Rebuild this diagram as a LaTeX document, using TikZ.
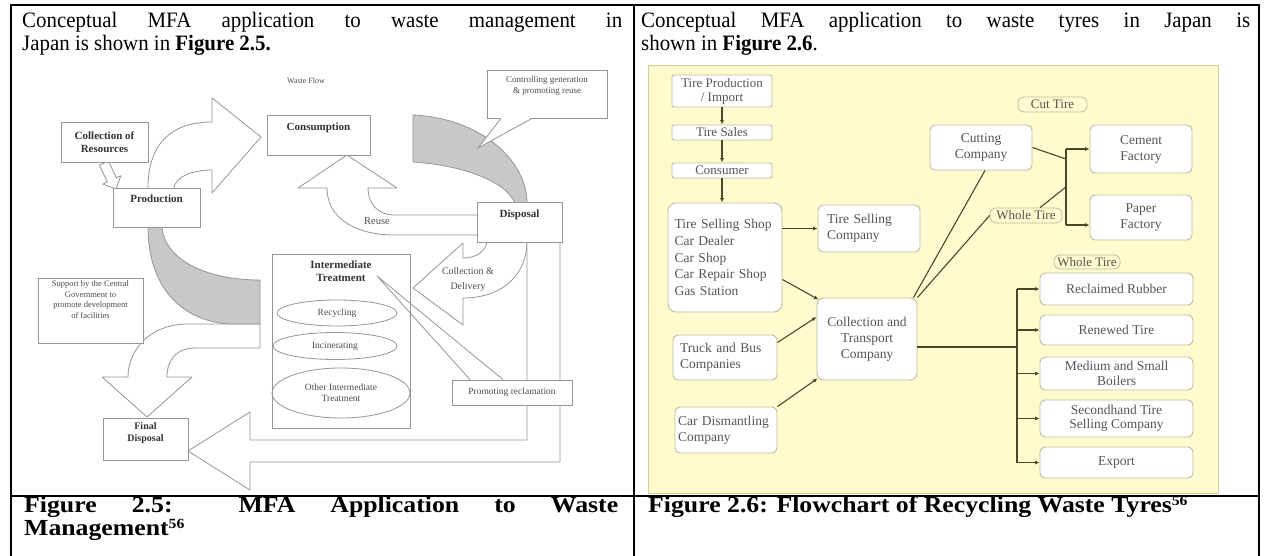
\documentclass[tikz,border=0pt]{standalone}
\usepackage{fontspec}
\setmainfont{Liberation Serif}
\newfontfamily\bodyfont[FakeStretch=0.95]{Liberation Serif}
\newfontfamily\capfont[FakeStretch=1.12]{Liberation Serif}
\usetikzlibrary{arrows.meta,shapes.geometric}

\definecolor{bgyellow}{RGB}{255,251,206}
\definecolor{bgedge}{RGB}{214,206,150}
\definecolor{boxedge}{RGB}{190,186,160}
\definecolor{flowline}{RGB}{75,72,40}
\definecolor{figtext}{RGB}{85,85,85}
\definecolor{sketchline}{RGB}{150,150,150}
\definecolor{bandgray}{RGB}{200,200,200}

\newcommand{\refmark}{\raisebox{6.5pt}{\fontsize{14}{14}\selectfont 56}}

\tikzset{
  framerule/.style={line width=2pt, draw=black},
  bodytext/.style={anchor=base west, inner sep=0pt, font=\bodyfont\fontsize{22}{23}\selectfont},
  captext/.style={anchor=base west, inner sep=0pt, font=\capfont\bfseries\fontsize{23}{23}\selectfont},
  sketchbox/.style={draw=sketchline, fill=white, line width=0.8pt, inner sep=0pt},
  sketchtext/.style={text=black!80, font=\fontsize{11}{13}\selectfont\bfseries, align=center, inner sep=0pt},
  smalltext/.style={text=black!70, font=\fontsize{9}{11}\selectfont, align=center, inner sep=0pt},
  ovalbox/.style={ellipse, draw=sketchline, line width=0.8pt, inner sep=0pt, text=black!70,
    font=\fontsize{9.5}{11}\selectfont, align=center},
  blockarrow/.style={draw=sketchline, fill=white, line width=0.8pt, line join=round},
  greyband/.style={draw=sketchline, fill=bandgray, line width=0.8pt},
  tyrebox/.style={draw=boxedge, fill=white, rounded corners=5pt, line width=0.9pt, inner sep=0pt,
    text=figtext, font=\fontsize{13.5}{16}\selectfont, align=center},
  pilltag/.style={draw=boxedge, fill=bgyellow, rounded corners=6pt, line width=0.8pt, inner sep=0pt,
    text=figtext, font=\fontsize{13}{15}\selectfont},
  conn/.style={draw=flowline, line width=1.1pt},
  connto/.style={conn, -{Latex[length=4.5pt,width=4pt]}},
}

\begin{document}
\begin{tikzpicture}[x=1pt,y=-1pt]
\useasboundingbox (0,0) rectangle (1272,556);
\fill[white] (0,0) rectangle (1272,556);

% ---------- table rules ----------
\draw[framerule] (11,5) -- (1259,5);
\draw[framerule] (11,495.5) -- (1259,495.5);
\draw[framerule] (11,4) -- (11,556);
\draw[framerule] (634,4) -- (634,556);
\draw[framerule] (1259,4) -- (1259,556);

% ---------- body text ----------
\node[bodytext] (introLa) at (22,28)
  {\makebox[600pt][s]{Conceptual MFA application to waste management in}};
\node[bodytext] (introLb) at (22,51) {Japan is shown in \textbf{Figure 2.5.}};
\node[bodytext] (introRa) at (641,28)
  {\makebox[609pt][s]{Conceptual MFA application to waste tyres in Japan is}};
\node[bodytext] (introRb) at (641,51) {shown in \textbf{Figure 2.6}.};

% ---------- captions ----------
\node[captext] (capLa) at (24,512) {\makebox[594pt][s]{Figure 2.5: MFA Application to Waste}};
\node[captext] (capLb) at (24,535) {Management\refmark};
\node[captext] (capR) at (648,512) {Figure 2.6: Flowchart of Recycling Waste Tyres\refmark};

% ================= waste management flow =================
% production -> consumption
\draw[blockarrow] (148,188) .. controls (148,145) and (170,122) .. (212,122) -- (212,98) -- (261,137)
  -- (212,193) -- (212,170) .. controls (190,170) and (175,178) .. (174,188);
% reuse
\draw[blockarrow] (477,215) -- (395,215) .. controls (377,215) and (368,203) .. (368,188) -- (397,188)
  -- (347,155) -- (298,188) -- (327,188) .. controls (327,218) and (355,235) .. (395,235) -- (477,235);
% collection & delivery
\draw[blockarrow] (487,242) .. controls (485,252) and (476,258) .. (463,258) -- (463,243) -- (413,288)
  -- (463,325) -- (463,298) .. controls (505,298) and (527,272) .. (527,242);
% loop down to final disposal
\draw[blockarrow] (527,242) -- (527,440) -- (250,440) -- (250,412) -- (188,451) -- (250,490)
  -- (250,462) -- (560,462) -- (560,242);
% supported flow into final disposal
\draw[blockarrow] (260,324) -- (188,324) .. controls (150,324) and (128,350) .. (128,377) -- (102,377)
  -- (147,417) -- (192,377) -- (167,377) .. controls (167,360) and (176,348) .. (196,348) -- (260,348) -- cycle;
% grey bands
\draw[greyband] (413,115) .. controls (480,118) and (527,160) .. (527,203) -- (515,203)
  .. controls (505,180) and (460,165) .. (413,162) -- cycle;
\draw[greyband] (148,227) .. controls (148,290) and (185,324) .. (235,324) -- (260,324) -- (260,280)
  .. controls (210,280) and (165,262) .. (162,227) -- cycle;
% resources into production
\draw[blockarrow] (99.5,165.1) -- (108.5,160.9) -- (116.3,177.8) -- (120.9,175.7) -- (116,189)
  -- (102.7,184.1) -- (107.3,182) -- cycle;

\node[smalltext, font=\fontsize{8}{9}\selectfont] (wflow) at (306,81) {Waste Flow};

\node[sketchbox, minimum width=87pt, minimum height=40pt] (cres) at (104.5,142) {};
\node[sketchtext] (crest) at (cres) {Collection of\\Resources};
\node[sketchbox, minimum width=87pt, minimum height=39pt] (prod) at (156.5,207.5) {};
\node[sketchtext, anchor=north] (prodt) at ([yshift=-7pt]prod.north) {Production};
\node[sketchbox, minimum width=103pt, minimum height=40pt] (cons) at (318.5,135) {};
\node[sketchtext, anchor=north] (const) at ([yshift=-8pt]cons.north) {Consumption};
\node[sketchbox, minimum width=85pt, minimum height=40pt] (disp) at (519.5,222) {};
\node[sketchtext, anchor=north] (dispt) at ([yshift=-8pt]disp.north) {Disposal};
\node[sketchbox, minimum width=85pt, minimum height=42pt] (fdis) at (145.5,439) {};
\node[sketchtext, font=\fontsize{10}{12}\selectfont\bfseries, anchor=north] (fdist) at ([yshift=-5pt]fdis.north) {Final\\Disposal};

\node[sketchbox, minimum width=138pt, minimum height=174pt] (itre) at (341,341) {};
\node[sketchtext, anchor=north] (itret) at ([yshift=-7pt]itre.north) {Intermediate\\Treatment};
\node[ovalbox, minimum width=120pt, minimum height=26pt] (recy) at (337,313) {Recycling};
\node[ovalbox, minimum width=124pt, minimum height=27pt] (inci) at (335,346) {Incinerating};
\node[ovalbox, minimum width=138pt, minimum height=50pt] (othr) at (341,393) {Other Intermediate\\Treatment};

\node[sketchbox, minimum width=105pt, minimum height=65pt] (supp) at (90.5,310.5) {};
\node[smalltext, font=\fontsize{8.5}{10.5}\selectfont, anchor=north] (suppt) at ([yshift=-3pt]supp.north)
  {Support by the Central\\Government to\\promote development\\of facilities};

% callout: controlling generation
\node[sketchbox, minimum width=120pt, minimum height=48pt] (ctrl) at (547,94) {};
\node[smalltext, anchor=north] (ctrlt) at ([yshift=-6pt]ctrl.north) {Controlling generation\\\& promoting reuse};
\coordinate (ctrltip) at (478,148);
\fill[white] ([xshift=-46pt,yshift=1pt]ctrl.south) -- (ctrltip) -- ([xshift=-15pt,yshift=1pt]ctrl.south) -- cycle;
\draw[draw=sketchline, line width=0.8pt] ([xshift=-46pt]ctrl.south) -- (ctrltip) -- ([xshift=-15pt]ctrl.south);

% callout: promoting reclamation
\node[sketchbox, minimum width=120pt, minimum height=25pt] (prec) at (512,392.5) {};
\node[smalltext, font=\fontsize{9.5}{11}\selectfont] (prect) at (prec) {Promoting reclamation};
\coordinate (prectip) at (377,276);
\fill[white] ([xshift=-41pt,yshift=0.8pt]prec.north) rectangle ([xshift=-10pt,yshift=-0.8pt]prec.north);
\draw[draw=sketchline, line width=0.8pt] ([xshift=-42pt]prec.north) -- (prectip) -- ([xshift=-9pt]prec.north);

\node[smalltext, font=\fontsize{10.5}{12}\selectfont] (reuse) at (377,221) {Reuse};
\node[smalltext, font=\fontsize{10}{15}\selectfont] (cdel) at (468,279.5) {Collection \&\\Delivery};

% ================= waste tyre flowchart =================
\path[fill=bgyellow, draw=bgedge, line width=1pt] (648,66) rectangle (1218,493);

\node[tyrebox, rounded corners=2pt, minimum width=100pt, minimum height=32pt, font=\fontsize{13}{14}\selectfont] (tp) at (722,91) {Tire Production\\/ Import};
\node[tyrebox, rounded corners=2pt, minimum width=100pt, minimum height=15pt, font=\fontsize{13}{14}\selectfont] (ts) at (722,132.5) {Tire Sales};
\node[tyrebox, rounded corners=2pt, minimum width=100pt, minimum height=15pt, font=\fontsize{13}{14}\selectfont] (co) at (722,170.5) {Consumer};
\node[tyrebox, rounded corners=8pt, minimum width=114pt, minimum height=109pt, text width=101pt, align=left,
  font=\fontsize{13.5}{16.6}\selectfont] (shop) at (725,257.5)
  {Tire Selling Shop\\Car Dealer\\Car Shop\\Car Repair Shop\\Gas Station};
\node[tyrebox, minimum width=102pt, minimum height=47pt, text width=84pt, align=left] (tsc) at (869,228.5) {Tire Selling\\Company};
\node[tyrebox, minimum width=104pt, minimum height=45pt, text width=90pt, align=left] (tb) at (725,357.5) {Truck and Bus\\Companies};
\node[tyrebox, minimum width=102pt, minimum height=46pt, text width=96pt, align=left] (cd) at (726,430) {Car Dismantling\\Company};
\node[tyrebox, rounded corners=7pt, minimum width=100pt, minimum height=82pt] (ct) at (867,339) {Collection and\\Transport\\Company};

\node[tyrebox, minimum width=102pt, minimum height=45pt] (cut) at (981,147.5) {Cutting\\Company};
\node[pilltag, minimum width=69pt, minimum height=15pt] (cuttire) at (1052.5,104.5) {Cut Tire};
\node[tyrebox, minimum width=102pt, minimum height=48pt] (cem) at (1141,149) {Cement\\Factory};
\node[tyrebox, minimum width=102pt, minimum height=45pt] (pap) at (1141,217.5) {Paper\\Factory};
\node[pilltag, minimum width=72pt, minimum height=15pt] (wta) at (1026,215.5) {Whole Tire};
\node[pilltag, minimum width=66pt, minimum height=14pt] (wtb) at (1087,262) {Whole Tire};

\node[tyrebox, minimum width=153pt, minimum height=32pt] (r1) at (1116.5,289) {Reclaimed Rubber};
\node[tyrebox, minimum width=153pt, minimum height=30pt] (r2) at (1116.5,330) {Renewed Tire};
\node[tyrebox, minimum width=153pt, minimum height=33pt, font=\fontsize{13.5}{14.5}\selectfont] (r3) at (1116.5,373.5) {Medium and Small\\Boilers};
\node[tyrebox, minimum width=153pt, minimum height=37pt, font=\fontsize{13.5}{14.5}\selectfont] (r4) at (1116.5,418.5) {Secondhand Tire\\Selling Company};
\node[tyrebox, minimum width=153pt, minimum height=31pt] (r5) at (1116.5,462.5) {Export};

% chain down the left side
\draw[connto] (tp) -- (ts);
\draw[connto] (ts) -- (co);
\draw[connto] (co.south) -- (co.south |- shop.north);
\draw[connto] (shop.east |- tsc.west) -- (tsc.west);
\draw[connto] ([yshift=-22pt]shop.east) -- ([xshift=2pt,yshift=-2pt]ct.north west);
\draw[connto] ([yshift=15pt]tb.east) -- ([yshift=22pt]ct.west);
\draw[connto] (cd.north east) -- ([xshift=1pt,yshift=2pt]ct.south west);

% from collection to cutting / whole tire
\draw[conn] ([xshift=-4pt]ct.north east) -- ([xshift=4pt]cut.south);
\draw[conn] (ct.north east) -- (wta.west);
\coordinate (jtop) at (1066,149);
\coordinate (jbot) at (1066,225);
\coordinate (jina) at (1066,159);
\coordinate (jinb) at (1066,187);
\draw[conn] (cut.east) -- (jina);
\draw[conn] ([xshift=14pt]wta.north) -- (jinb);
\draw[conn] (jtop) -- (jbot);
\draw[connto] (jtop) -- (jtop -| cem.west);
\draw[connto] (jbot) -- (jbot -| pap.west);

% whole tyres to the reuse routes
\coordinate (bx) at (1017,347);
\draw[conn] ([yshift=-8pt]ct.east) -- (bx);
\draw[conn] (bx |- r1.west) -- (bx |- r5.west);
\foreach \r in {r1,r2,r3,r4,r5} \draw[connto] (bx |- \r.west) -- (\r.west);
\end{tikzpicture}
\end{document}
